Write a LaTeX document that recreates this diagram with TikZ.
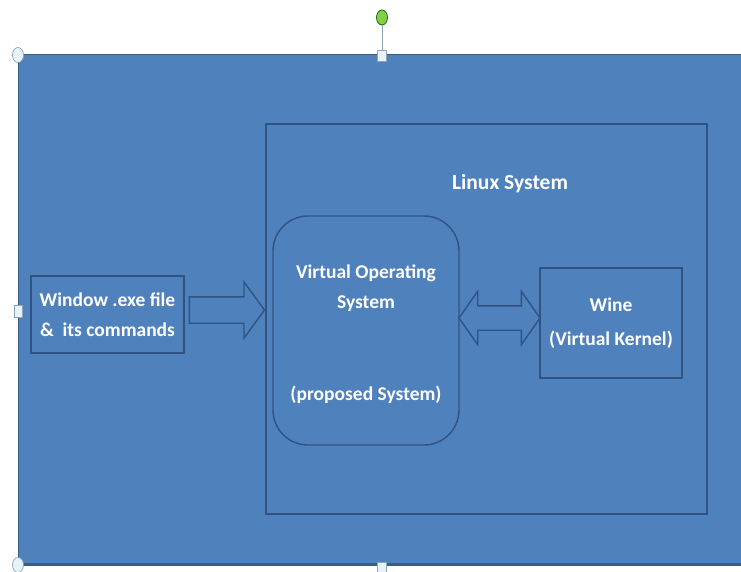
\documentclass[tikz,border=0pt]{standalone}
\usepackage{fontspec}
\setmainfont{Carlito}
\usetikzlibrary{shapes.arrows}

\definecolor{slideblue}{HTML}{4F81BD}
\definecolor{slideedge}{HTML}{385D8A}
\definecolor{boxedge}{HTML}{2F5382}
\definecolor{handlefill}{HTML}{E6F4F8}
\definecolor{handleedge}{HTML}{8CA3B8}
\definecolor{rotgreen}{HTML}{86CF45}

\begin{document}
\begin{tikzpicture}[
        x=1pt, y=-1pt,
        box/.style={draw=boxedge, line width=1.4pt, text=white, align=center,
            font=\bfseries\fontsize{19.5}{30}\selectfont},
        boxtext/.style={text=white, align=center,
            font=\bfseries\fontsize{19.5}{30}\selectfont},
        feedarrow/.style={single arrow, draw=boxedge, line width=1.4pt,
            inner xsep=0pt, inner ysep=12.5pt, single arrow head extend=15pt,
            single arrow tip angle=108, minimum height=75pt},
        linkarrow/.style={double arrow, draw=boxedge, line width=1.4pt,
            inner xsep=0pt, inner ysep=11.5pt, double arrow head extend=14.5pt,
            double arrow tip angle=110, minimum height=81pt},
        handle/.style={draw=handleedge, fill=handlefill, line width=0.7pt},
    ]
    \useasboundingbox (0,0) rectangle (741,572);
    \clip (0,0) rectangle (741,572);
    % slide background
    \fill[slideblue] (18,55) rectangle (760,564);
    \draw[slideedge, line width=1pt] (760,55) -- (18,55) -- (18,564);
    \draw[slideedge, line width=3pt] (18,564) -- (760,564);

    \node[box, minimum width=441pt, minimum height=390pt] (linux) at (486.5,319) {};
    \node[text=white, font=\bfseries\fontsize{21.5}{26}\selectfont] (linuxlbl) at (510,184) {Linux System};
    \node[box, minimum width=153pt, minimum height=77pt] (win) at (107.5,314.5)
        {Window .exe file\\\& \ its commands};
    \node[box, rounded corners=35pt, minimum width=186pt, minimum height=229pt] (vos) at (366,330.5) {};
    \node[boxtext] (vostext) at ([yshift=-4pt]vos.center)
        {Virtual Operating\\System\\[62pt](proposed System)};
    \node[box, minimum width=142pt, minimum height=110pt] (wine) at (611,323)
        {Wine\\[4pt](Virtual Kernel)};

    % block arrows
    \node[feedarrow, anchor=tip] (feed) at (linux.west |- 0,310) {};
    \node[linkarrow] (link) at (499.5,318) {};

    % selection handles
    \draw[handleedge, line width=1pt] (382,24) -- (382,50);
    \draw[handle] (18,55) ellipse [x radius=5.5pt, y radius=7.5pt];
    \draw[handle] (18,565) ellipse [x radius=5.5pt, y radius=7.5pt];
    \draw[handle] (377.5,50) rectangle (386.5,61);
    \draw[handle] (377.5,562) rectangle (386.5,573);
    \draw[handle] (14,305) rectangle (22,317);
    \draw[draw=green!40!black, fill=rotgreen, line width=0.7pt] (382,17.5) ellipse [x radius=5.5pt, y radius=7.5pt];
\end{tikzpicture}
\end{document}
